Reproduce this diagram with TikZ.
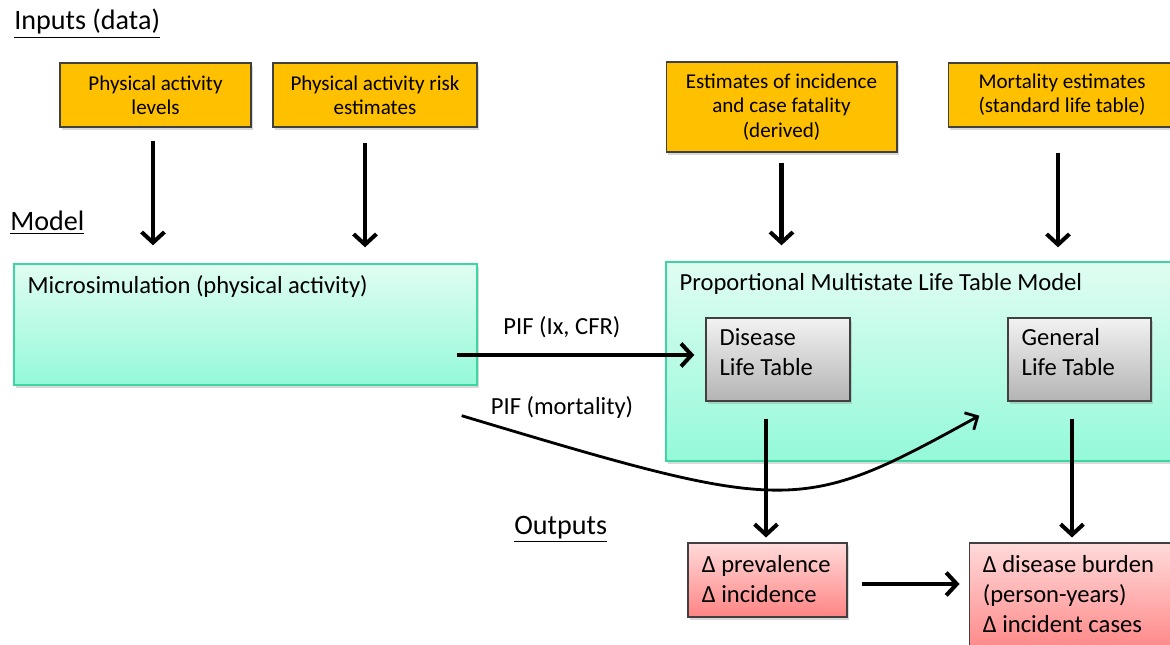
\documentclass[tikz,border=0pt]{standalone}
\usepackage{fontspec}
\setmainfont{Carlito}
\usetikzlibrary{
  arrows.meta
  , shadows
  , positioning
}
\definecolor{inputYellow}{HTML}{FFC000}
\definecolor{mintTop}{HTML}{E0FDF2}
\definecolor{mintBottom}{HTML}{94F9D9}
\definecolor{mintEdge}{HTML}{3DD5A2}
\definecolor{greyTop}{HTML}{F2F2F2}
\definecolor{greyBottom}{HTML}{B4B4B4}
\definecolor{redTop}{HTML}{FFDADA}
\definecolor{redBottom}{HTML}{FF8484}

\begin{document}
\begin{tikzpicture}[
    x=0.02cm, y=-0.02cm
  ]
  \tikzstyle{soft shadow}=[drop shadow={shadow xshift=1pt, shadow yshift=-1.5pt, opacity=0.3}];
  \tikzstyle{input box}=[rectangle, draw=black!75, line width=0.6pt
    , fill=inputYellow, align=center, soft shadow
    , font=\fontsize{12}{13.8}\selectfont];
  \tikzstyle{model box}=[rectangle, draw=mintEdge, line width=0.8pt
    , top color=mintTop, bottom color=mintBottom, soft shadow];
  \tikzstyle{table box}=[rectangle, draw=black!75, line width=0.8pt
    , top color=greyTop, bottom color=greyBottom, soft shadow];
  \tikzstyle{output box}=[rectangle, draw=black!75, line width=0.6pt
    , top color=redTop, bottom color=redBottom, soft shadow];
  \tikzstyle{box text}=[anchor=north west, inner sep=0pt, align=left
    , font=\fontsize{14}{17}\selectfont];
  \tikzstyle{heading}=[anchor=base west, inner sep=0pt
    , font=\fontsize{16}{19}\selectfont];
  \tikzstyle{flow}=[-{Straight Barb[length=6pt, width=13pt]}, line width=2.3pt];

  \useasboundingbox (0,0) rectangle (1170,645);
  \clip (0,0) rectangle (1170,645);

  % headings
  \node [heading] (inputsTitle) at (14,30) {\underline{Inputs (data)}};
  \node [heading] (modelTitle) at (10,231) {\underline{Model}};
  \node [heading] (outputsTitle) at (514,534) {\underline{Outputs}};

  % inputs
  \node [input box, minimum width=3.82cm, minimum height=1.28cm]
    (paLevels) at (155.5,95) {Physical activity\\levels};
  \node [input box, minimum width=4.08cm, minimum height=1.28cm]
    (paRisk) at (375,95) {Physical activity risk\\estimates};
  \node [input box, minimum width=4.62cm, minimum height=1.8cm]
    (incEst) at (781.5,107) {Estimates of incidence\\and case fatality\\(derived)};
  \node [input box, minimum width=4.56cm, minimum height=1.28cm]
    (mortEst) at (1062,95) {Mortality estimates\\(standard life table)};

  % model
  \node [model box, minimum width=9.26cm, minimum height=2.42cm]
    (micro) at (245.5,324.5) {};
  \node [box text] (microText) at ([shift={(0.28cm,-0.24cm)}]micro.north west)
    {Microsimulation (physical activity)};

  \node [model box, minimum width=10.28cm, minimum height=3.98cm]
    (pmslt) at (923,361.5) {};
  \node [box text] (pmsltText) at ([shift={(0.28cm,-0.24cm)}]pmslt.north west)
    {Proportional Multistate Life Table Model};

  \node [table box, minimum width=2.88cm, minimum height=1.66cm]
    (disease) at (778,359.5) {};
  \node [box text] (diseaseText) at ([shift={(0.28cm,-0.22cm)}]disease.north west)
    {Disease\\Life Table};
  \node [table box, minimum width=2.86cm, minimum height=1.66cm]
    (general) at (1079.5,359.5) {};
  \node [box text] (generalText) at ([shift={(0.28cm,-0.22cm)}]general.north west)
    {General\\Life Table};

  % outputs
  \node [output box, minimum width=3.18cm, minimum height=1.48cm]
    (prevInc) at (767.5,580) {};
  \node [box text] (prevIncText) at ([shift={(0.28cm,-0.26cm)}]prevInc.north west)
    {Δ prevalence\\Δ incidence};
  \node [output box, minimum width=4.22cm, minimum height=2.24cm]
    (burden) at (1074.5,599) {};
  \node [box text] (burdenText) at ([shift={(0.28cm,-0.26cm)}]burden.north west)
    {Δ disease burden\\(person-years)\\Δ incident cases};

  % inputs -> model
  \draw [flow, shorten <=0.26cm, shorten >=0.36cm]
    ([xshift=-0.05cm]paLevels.south) -- ([xshift=-0.05cm]paLevels.south |- micro.north);
  \draw [flow, shorten <=0.3cm, shorten >=0.32cm]
    ([xshift=-0.2cm]paRisk.south) -- ([xshift=-0.2cm]paRisk.south |- micro.north);
  \draw [flow, shorten <=0.2cm, shorten >=0.32cm]
    (incEst.south) -- (incEst.south |- pmslt.north);
  \draw [flow, shorten <=0.5cm, shorten >=0.28cm]
    ([xshift=-0.08cm]mortEst.south) -- ([xshift=-0.08cm]mortEst.south |- pmslt.north);

  % PIFs
  \draw [flow, shorten <=-0.42cm, shorten >=0.22cm]
    ([yshift=-0.61cm]micro.east) -- ([yshift=-0.61cm]micro.east -| disease.west)
    node [pos=0.37, above=5pt, font=\fontsize{14}{17}\selectfont] (pifIx) {PIF (Ix, CFR)};

  \coordinate (mortStart) at ([shift={(-0.32cm,-0.6cm)}]micro.south east);
  \coordinate (mortEnd) at ([shift={(-0.56cm,-0.28cm)}]general.south west);
  \draw [-{Straight Barb[length=5.5pt, width=11pt]}, line width=1.6pt]
    (mortStart) .. controls +(330,99) and +(-180,99) .. (mortEnd);
  \node [font=\fontsize{14}{17}\selectfont] (pifMort) at (562,407) {PIF (mortality)};

  % model -> outputs
  \draw [flow, shorten <=0.34cm, shorten >=0.1cm]
    ([xshift=-0.24cm]disease.south) -- ([xshift=-0.24cm]disease.south |- prevInc.north);
  \draw [flow, shorten <=0.34cm, shorten >=0.1cm]
    ([xshift=-0.15cm]general.south) -- ([xshift=-0.15cm]general.south |- burden.north);
  \draw [flow, shorten <=0.28cm, shorten >=0.18cm]
    ([yshift=-0.08cm]prevInc.east) -- ([yshift=-0.08cm]prevInc.east -| burden.west);

\end{tikzpicture}
\end{document}
